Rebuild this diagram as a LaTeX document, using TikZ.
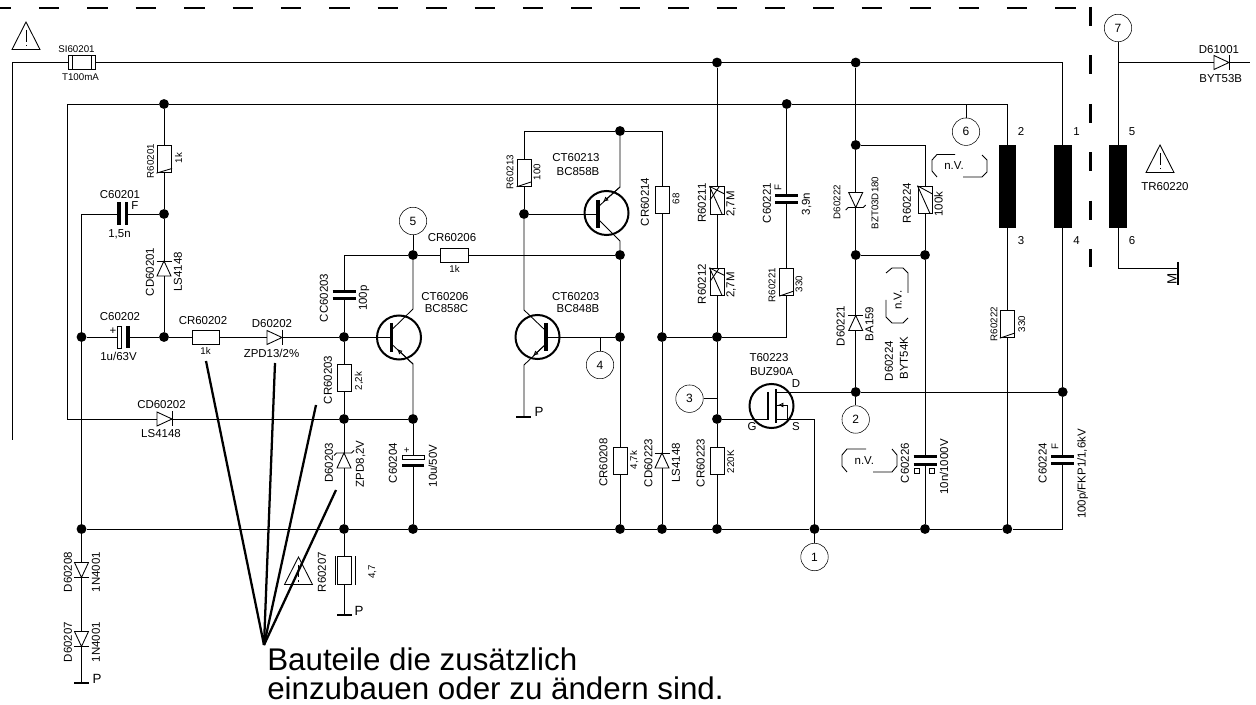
\documentclass[tikz,border=0pt]{standalone}
\usepackage{fontspec}
\setmainfont{Liberation Sans}
\usetikzlibrary{arrows.meta}

\begin{document}
\begin{tikzpicture}[x=0.75pt, y=-0.75pt,
    wire/.style = {line width=0.65pt},
    fat/.style = {line width=1.7pt},
    dot/.style = {fill, circle, inner sep=0pt, minimum size=7.4pt},
    num/.style = {draw, circle, inner sep=0pt, minimum size=20.6pt, font=\fontsize{9}{10}\selectfont},
    resh/.style = {draw, fill=white, inner sep=0pt, line width=0.6pt, minimum width=20.6pt, minimum height=10.6pt},
    resv/.style = {draw, fill=white, inner sep=0pt, line width=0.6pt, minimum width=10.6pt, minimum height=20.6pt},
    core/.style = {fill, inner sep=0pt, minimum width=13.2pt, minimum height=62pt},
    trans/.style = {draw, circle, inner sep=0pt, line width=1.5pt, minimum size=33pt},
    sq/.style = {draw, fill=white, inner sep=0pt, line width=0.5pt, minimum size=3.4pt},
    lab/.style = {inner sep=0pt, font=\fontsize{8.6}{9}\selectfont},
    labs/.style = {inner sep=0pt, font=\fontsize{7.3}{8}\selectfont},
    labp/.style = {inner sep=0pt, font=\fontsize{10}{11}\selectfont},
    vlab/.style = {lab, rotate=90},
    vlabs/.style = {labs, rotate=90},
    big/.style = {inner sep=0pt, anchor=west, align=left, font=\fontsize{23.5}{22}\selectfont},
    bar/.style = {line width=2.4pt},
    gnd/.style = {line width=2pt},
    diodepic/.pic = {\draw[wire, fill=white] (-7.5,-7) -- (7.5,0) -- (-7.5,7) -- cycle;
        \draw[wire] (7.5,-7.5) -- (7.5,7.5);},
    zenerpic/.pic = {\draw[wire, fill=white] (-7.5,-7) -- (7.5,0) -- (-7.5,7) -- cycle;
        \draw[wire] (5,-10) -- (7.5,-7.5) -- (7.5,7.5) -- (10,10);},
    cappic/.pic = {\fill[white] (-3,-6) rectangle (3,6);
        \draw[line width=2.4pt] (-3.7,-11.5) -- (-3.7,11.5);
        \draw[line width=2.4pt] (3.7,-11.5) -- (3.7,11.5);},
    elcappic/.pic = {\fill[white] (-5,-6) rectangle (4,6);
        \draw[wire, fill=white] (-5.5,-11) rectangle (-1,11);
        \draw[line width=2.4pt] (5.3,-11) -- (5.3,11);},
    warnpic/.pic = {\draw[wire] (0,-14) -- (14,13.5) -- (-14,13.5) -- cycle;
        \draw[wire] (0,-6) -- (0,6);
        \draw[wire] (0,9) -- (0,10.5);},
    openhead/.style = {-{Latex[open, length=4pt, width=3.8pt]}}]

        \useasboundingbox (0,0) rectangle (1256,705);

        \node[dot] (1) at (717,62.5) {};
        \node[dot] (2) at (855.7,62.5) {};
        \node[dot] (3) at (164,104) {};
        \node[dot] (4) at (786.7,104) {};
        \node[dot] (5) at (164,214) {};
        \node[dot] (6) at (81.5,337) {};
        \node[dot] (7) at (164,337) {};
        \node[dot] (8) at (344,337) {};
        \node[dot] (9) at (413,255) {};
        \node[dot] (10) at (620,131) {};
        \node[dot] (11) at (524,214) {};
        \node[dot] (12) at (620,255) {};
        \node[dot] (13) at (620,337) {};
        \node[dot] (14) at (662,337) {};
        \node[dot] (15) at (717,337) {};
        \node[dot] (16) at (855.7,145) {};
        \node[dot] (17) at (855.7,255) {};
        \node[dot] (18) at (925,255) {};
        \node[dot] (19) at (855.7,392) {};
        \node[dot] (20) at (1062.7,392) {};
        \node[dot] (21) at (717,419) {};
        \node[dot] (22) at (344,419) {};
        \node[dot] (23) at (413,419) {};
        \node[dot] (24) at (81.5,529) {};
        \node[dot] (25) at (344,529) {};
        \node[dot] (26) at (413,529) {};
        \node[dot] (27) at (620,529) {};
        \node[dot] (28) at (662,529) {};
        \node[dot] (29) at (717,529) {};
        \node[dot] (30) at (814.5,529) {};
        \node[dot] (31) at (925,529) {};
        \node[dot] (32) at (1007.3,529) {};

        \node[num] (t1) at (814.5,557) {1};
        \node[num] (t2) at (855.7,419.5) {2};
        \node[num] (t3) at (689.5,398.7) {3};
        \node[num] (t4) at (600,365) {4};
        \node[num] (t5) at (413,221) {5};
        \node[num] (t6) at (966,131.7) {6};
        \node[num] (t7) at (1118,28) {7};

        \coordinate (left1) at (12.5,440);
        \coordinate (left2) at (67,419);
        \coordinate (right1) at (1062.7,62.5);
        \coordinate (right2) at (1062.7,529);
        \coordinate (sec1) at (1007.3,104);
        \coordinate (sec2) at (1118,62.5);
        \coordinate (sec3) at (1250,62.5);
        \coordinate (sec4) at (1118,268);
        \coordinate (sec5) at (1178,268);
        \coordinate (sec6) at (1178,262);
        \coordinate (sec7) at (1178,285);
        \coordinate (gnd1) at (81.5,683);
        \coordinate (gnd2) at (344,615);
        \coordinate (gnd3) at (524,417);

        \draw[wire] (left1) |- (1);
        \draw[wire] (1) -- (2);
        \draw[wire] (2) -- (right1) -- (20);
        \draw[wire] (20) -- (right2) -- (32);
        \draw[wire] (left2) |- (3);
        \draw[wire] (3) -- (4);
        \draw[wire] (4) -- (sec1) -- (32);
        \draw[wire] (24) -- (25);
        \draw[wire] (25) -- (26);
        \draw[wire] (26) -- (27);
        \draw[wire] (27) -- (28);
        \draw[wire] (28) -- (29);
        \draw[wire] (29) -- (30);
        \draw[wire] (30) -- (31);
        \draw[wire] (31) -- (32);
        \draw[wire] (3) -- (5);
        \draw[wire] (5) -- (7);
        \draw[wire] (5) -| (6);
        \draw[wire] (6) -- (24);
        \draw[wire] (24) -- (gnd1);
        \draw[wire] (6) -- (7);
        \draw[wire] (7) -- (8);
        \draw[wire] (8) |- (9);
        \draw[wire] (8) -- (22);
        \draw[wire] (22) -- (25);
        \draw[wire] (25) -- (gnd2);
        \draw[wire] (left2) -- (22);
        \draw[wire] (22) -- (23);
        \draw[wire] (23) -- (26);
        \draw[wire] (t5) -- (9);
        \draw[wire] (9) -- (12);
        \draw[wire] (12) -- (13);
        \draw[wire] (13) -- (27);
        \draw[wire] (14) -- (28);
        \draw[wire] (14) -- (15);
        \draw[wire] (1) -- (15);
        \draw[wire] (15) -- (21);
        \draw[wire] (21) -- (29);
        \draw[wire] (t4) -- (t4 |- 13);
        \draw[wire] (t3) -- (t3 -| 21);
        \draw[wire] (2) -- (16);
        \draw[wire] (16) -- (17);
        \draw[wire] (17) -- (19);
        \draw[wire] (19) -- (t2);
        \draw[wire] (17) -- (18);
        \draw[wire] (18) -- (31);
        \draw[wire] (16) -| (18);
        \draw[wire] (19) -- (20);
        \draw[wire] (30) -- (t1);
        \draw[wire] (t6) -- (t6 |- 4);
        \draw[wire] (15) -| (4);
        \draw[wire] (t7) -- (sec4) -- (sec5);
        \draw[wire] (sec2) -- (sec3);
        \draw[gnd] (sec6) -- (sec7);

        \node[trans] (Q1) at (399,337.5) {};
        \draw[wire] (8) -- (391.5,337);
        \draw[bar] (391.5,323) -- (391.5,352);
        \draw[wire] (9) -- (413,309) -- (391.5,330);
        \draw[wire] (391.5,344) -- (413,364) -- (23);
        \draw[wire, openhead] (413,364) -- (397,349);

        \node[trans] (Q2) at (606.5,213) {};
        \draw[wire] (11) -- (598,214);
        \draw[bar] (598,200) -- (598,228);
        \draw[wire] (10) -- (620,187) -- (598,207);
        \draw[wire, openhead] (620,187) -- (603,202);
        \draw[wire] (598,219) -- (620,241) -- (12);

        \node[trans] (Q3) at (537.5,337) {};
        \draw[wire] (13) -- (546,337);
        \draw[bar] (546,323) -- (546,351);
        \draw[wire] (11) -- (524,310) -- (546,331);
        \draw[wire] (546,344) -- (524,365) -- (gnd3);
        \draw[wire, openhead] (546,344) -- (533,356);
        \draw[wire] (524,131) -- (10);
        \draw[wire] (10) -- (662,131) -- (14);
        \draw[wire] (524,131) -- (11);

        \node[trans] (Q4) at (771.5,406) {};
        \draw[wire] (21) -- (768,419);
        \draw[line width=1.5pt] (768,392) -- (768,420);
        \draw[line width=1.5pt] (776,389) -- (776,423);
        \draw[wire] (776,392) -- (19);
        \draw[wire] (776,419) -- (814.5,419) -- (30);
        \draw[wire] (776,419) -- (787,419) -- (787,405) -- (776,405);
        \draw[wire, openhead] (787,405) -- (778,405);

        \draw[gnd] (74,683) -- (89,683);
        \draw[gnd] (337,615) -- (352,615);
        \draw[gnd] (516,417) -- (531,417);

        \node[resh] (SI60201) at (82,62.5) {};
        \draw[wire] (72,56) -- (72,69.5);
        \draw[wire] (91,56) -- (91,69.5);
        \node[resv] (R60201) at (164,159) {};
        \draw[wire] (R60201.south west) -- (172,168.5);
        \node[resh] (CR60202) at (206,337) {};
        \node[resv] (CR60203) at (344,378) {};
        \node[resh] (CR60206) at (454.5,255) {};
        \node[resv] (R60213) at (524,172.7) {};
        \draw[wire] (R60213.south west) -- (531,182);
        \node[resv] (CR60214) at (662,200) {};
        \node[resv] (R60211) at (717,200.5) {};
        \draw[wire] (R60211.north west) -- (722,214);
        \draw[wire] (R60211.north west) -- (724.5,194);
        \draw[wire] (710,200) -- (719,187);
        \node[resv] (R60212) at (717,282) {};
        \draw[wire] (R60212.north west) -- (722,295.5);
        \draw[wire] (R60212.north west) -- (724.5,275.5);
        \draw[wire] (710,281.5) -- (719,268.5);
        \node[resv] (R60221) at (786.7,282) {};
        \draw[wire] (R60221.south west) -- (794,291);
        \node[resv] (R60224) at (925,200) {};
        \draw[wire] (R60224.north west) -- (930,213.5);
        \draw[wire] (R60224.north west) -- (932.5,194);
        \node[resv] (R60222) at (1007.3,324) {};
        \draw[wire] (R60222.south west) -- (1015,333);
        \node[resv] (R60207) at (344,570.5) {};
        \draw[wire] (335,556) -- (335,585);
        \draw[wire] (355,556) -- (355,585);
        \node[resv] (CR60208) at (620,461) {};
        \node[resv] (CR60223) at (717,461) {};

        \node[core] (TR1) at (1007.3,186.5) {};
        \node[core] (TR2) at (1062.7,186.5) {};
        \node[core] (TR3) at (1118,186.5) {};

        \pic[rotate=90] at (164,268.5) {diodepic};
        \pic at (274.5,337.5) {diodepic};
        \pic at (164.5,419) {diodepic};
        \pic[rotate=90] at (344,460.5) {zenerpic};
        \pic[rotate=90] at (662,460.5) {diodepic};
        \pic[rotate=-90] at (81.5,570) {diodepic};
        \pic[rotate=-90] at (81.5,639) {diodepic};
        \pic[rotate=-90] at (855.7,200) {zenerpic};
        \pic[rotate=90] at (855.7,323) {diodepic};
        \pic at (1221.5,62.5) {diodepic};

        \pic at (122.7,214) {cappic};
        \pic at (122.7,337) {elcappic};
        \pic[rotate=90] at (344,295) {cappic};
        \pic[rotate=-90] at (413,460.5) {elcappic};
        \pic[rotate=90] at (786.7,199) {cappic};
        \pic[rotate=90] at (925,460.5) {cappic};
        \pic[rotate=90] at (1062.7,460) {cappic};
        \node[sq] (sq1) at (917,471) {};
        \node[sq] (sq2) at (932,471) {};

        \pic at (26,36) {warnpic};
        \pic at (1160,159) {warnpic};
        \pic at (298.5,571) {warnpic};

        \draw[wire] (955,154.5) -- (937,154.5) -- (932,160) -- (932,171) -- (937,177);
        \draw[wire] (963,177) -- (982,177) -- (987,172) -- (987,160) -- (982,155);
        \draw[wire] (886,273) -- (892,268) -- (903,268) -- (908,273) -- (908,293);
        \draw[wire] (886,300) -- (886,317) -- (892,323) -- (903,323) -- (908,318);
        \draw[wire] (866,449) -- (847,449) -- (842,455) -- (842,466) -- (847,472);
        \draw[wire] (873,472) -- (892,472) -- (897,466) -- (897,455) -- (892,449);

        \coordinate (dash1) at (0,8);
        \coordinate (dash2) at (1077,8);
        \coordinate (dash3) at (1090.7,7);
        \coordinate (dash4) at (1090.7,267);
        \draw[line width=2pt, dash pattern=on 15.4pt off 20.9pt, dash phase=7.1pt] (dash1) -- (dash2);
        \draw[line width=2pt, dash pattern=on 14.3pt off 22pt] (dash3) -- (dash4);

        \coordinate (fan) at (264,645);
        \coordinate (f1) at (206,361);
        \coordinate (f2) at (275,363);
        \coordinate (f3) at (316,405);
        \coordinate (f4) at (336,490);
        \draw[fat] (fan) -- (f1);
        \draw[fat] (fan) -- (f2);
        \draw[fat] (fan) -- (f3);
        \draw[fat] (fan) -- (f4);

        \node[labs] (l1) at (76.5,49) {SI60201};
        \node[labs] (l2) at (80.5,77) {T100mA};
        \node[lab] (l3) at (120,194.5) {C60201};
        \node[lab] (l4) at (135,206) {F};
        \node[lab] (l5) at (119.5,234) {1,5n};
        \node[vlabs] (l6) at (150.5,161) {R60201};
        \node[vlabs] (l7) at (178.5,158) {1k};
        \node[vlab] (l8) at (150,272) {CD60201};
        \node[vlab] (l9) at (178,272) {LS4148};
        \node[lab] (l10) at (120,317) {C60202};
        \node[lab] (l11) at (113,331) {+};
        \node[lab] (l12) at (118.5,356.7) {1u/63V};
        \node[lab] (l13) at (203,320.5) {CR60202};
        \node[labs] (l14) at (205.5,351) {1k};
        \node[lab] (l15) at (272,323.5) {D60202};
        \node[lab] (l16) at (271.5,353.5) {ZPD13/2\%};
        \node[vlab] (l17) at (324,298) {CC60203};
        \node[vlab] (l18) at (364,298) {100p};
        \node[vlab] (l19) at (328,380) {CR60203};
        \node[vlabs] (l20) at (359,381) {2,2k};
        \node[lab] (l21) at (445,296.7) {CT60206};
        \node[lab] (l22) at (446.5,309) {BC858C};
        \node[lab] (l23) at (452,238) {CR60206};
        \node[labs] (l24) at (454.5,269) {1k};
        \node[vlabs] (l25) at (510,172) {R60213};
        \node[vlabs] (l26) at (537,172) {100};
        \node[lab] (l27) at (576,158) {CT60213};
        \node[lab] (l28) at (578,172) {BC858B};
        \node[vlab] (l29) at (645,202) {CR60214};
        \node[vlabs] (l30) at (676,199) {68};
        \node[vlab] (l31) at (702,203) {R60211};
        \node[vlab] (l32) at (731,204) {2,7M};
        \node[vlab] (l33) at (702,284) {R60212};
        \node[vlab] (l34) at (731,285) {2,7M};
        \node[vlab] (l35) at (767,203) {C60221};
        \node[vlabs] (l36) at (778,188) {F};
        \node[vlab] (l37) at (806.5,204) {3,9n};
        \node[vlabs] (l38) at (772,285) {R60221};
        \node[vlabs] (l39) at (799,284) {330};
        \node[vlabs] (l40) at (837,202) {D60222};
        \node[vlabs] (l41) at (875,203) {BZT03D180};
        \node[vlab] (l42) at (907,203) {R60224};
        \node[vlab] (l43) at (938.5,204) {100k};
        \node[lab] (l44) at (954,166) {n.V.};
        \node[vlab] (l45) at (840.7,326) {D60221};
        \node[vlab] (l46) at (869.5,324) {BA159};
        \node[vlab] (l47) at (889,361) {D60224};
        \node[vlab] (l48) at (904,358) {BYT54K};
        \node[vlab] (l49) at (897.7,300) {n.V.};
        \node[vlab] (l50) at (905,463) {C60226};
        \node[vlab] (l51) at (944,467) {10n/1000V};
        \node[vlab] (l52) at (1042.7,463) {C60224};
        \node[vlabs] (l53) at (1055,447) {F};
        \node[vlab] (l54) at (1082.7,474) {100p/FKP1/1,6kV};
        \node[vlabs] (l55) at (994,324) {R60222};
        \node[vlabs] (l56) at (1021.7,324) {330};
        \node[lab] (l57) at (864.3,460.7) {n.V.};
        \node[lab] (l58) at (1219,50) {D61001};
        \node[lab] (l59) at (1220.7,79) {BYT53B};
        \node[lab] (l60) at (1165,186.7) {TR60220};
        \node[labp, rotate=90] (l61) at (1172,279) {M};
        \node[lab] (l62) at (161.5,405) {CD60202};
        \node[lab] (l63) at (161,433.7) {LS4148};
        \node[vlab] (l64) at (329,462.7) {D60203};
        \node[vlab] (l65) at (360.5,464) {ZPD8,2V};
        \node[vlab] (l66) at (393,463) {C60204};
        \node[vlab] (l67) at (432.7,466) {10u/50V};
        \node[labs] (l68) at (406.7,450.7) {+};
        \node[vlab] (l69) at (68,572) {D60208};
        \node[vlab] (l70) at (96,572) {1N4001};
        \node[vlab] (l71) at (68,642) {D60207};
        \node[vlab] (l72) at (96,642) {1N4001};
        \node[labp] (l73) at (97,679) {P};
        \node[labp] (l74) at (359,611) {P};
        \node[labp] (l75) at (539,412) {P};
        \node[vlab] (l76) at (322,572) {R60207};
        \node[vlabs] (l77) at (372.5,572) {4,7};
        \node[vlab] (l78) at (603.3,462.7) {CR60208};
        \node[vlabs] (l79) at (634.3,460) {4,7k};
        \node[vlab] (l80) at (648.3,463) {CD60223};
        \node[vlab] (l81) at (676,463) {LS4148};
        \node[vlab] (l82) at (700.7,463) {CR60223};
        \node[vlabs] (l83) at (730.7,461.7) {220K};
        \node[lab] (l84) at (769,357.3) {T60223};
        \node[lab] (l85) at (771.7,371.7) {BUZ90A};
        \node[lab] (l86) at (796,383.7) {D};
        \node[lab] (l87) at (752,427) {G};
        \node[lab] (l88) at (796,427) {S};
        \node[lab] (l89) at (575.7,296.7) {CT60203};
        \node[lab] (l90) at (578,309) {BC848B};
        \node[lab] (l91) at (1021,132) {2};
        \node[lab] (l92) at (1076.5,132) {1};
        \node[lab] (l93) at (1132,132) {5};
        \node[lab] (l94) at (1021,241) {3};
        \node[lab] (l95) at (1076.5,241) {4};
        \node[lab] (l96) at (1132,241) {6};

        \node[big] (note) at (267,674) {Bauteile die zusätzlich\\einzubauen oder zu ändern sind.};
    \end{tikzpicture}
\end{document}
